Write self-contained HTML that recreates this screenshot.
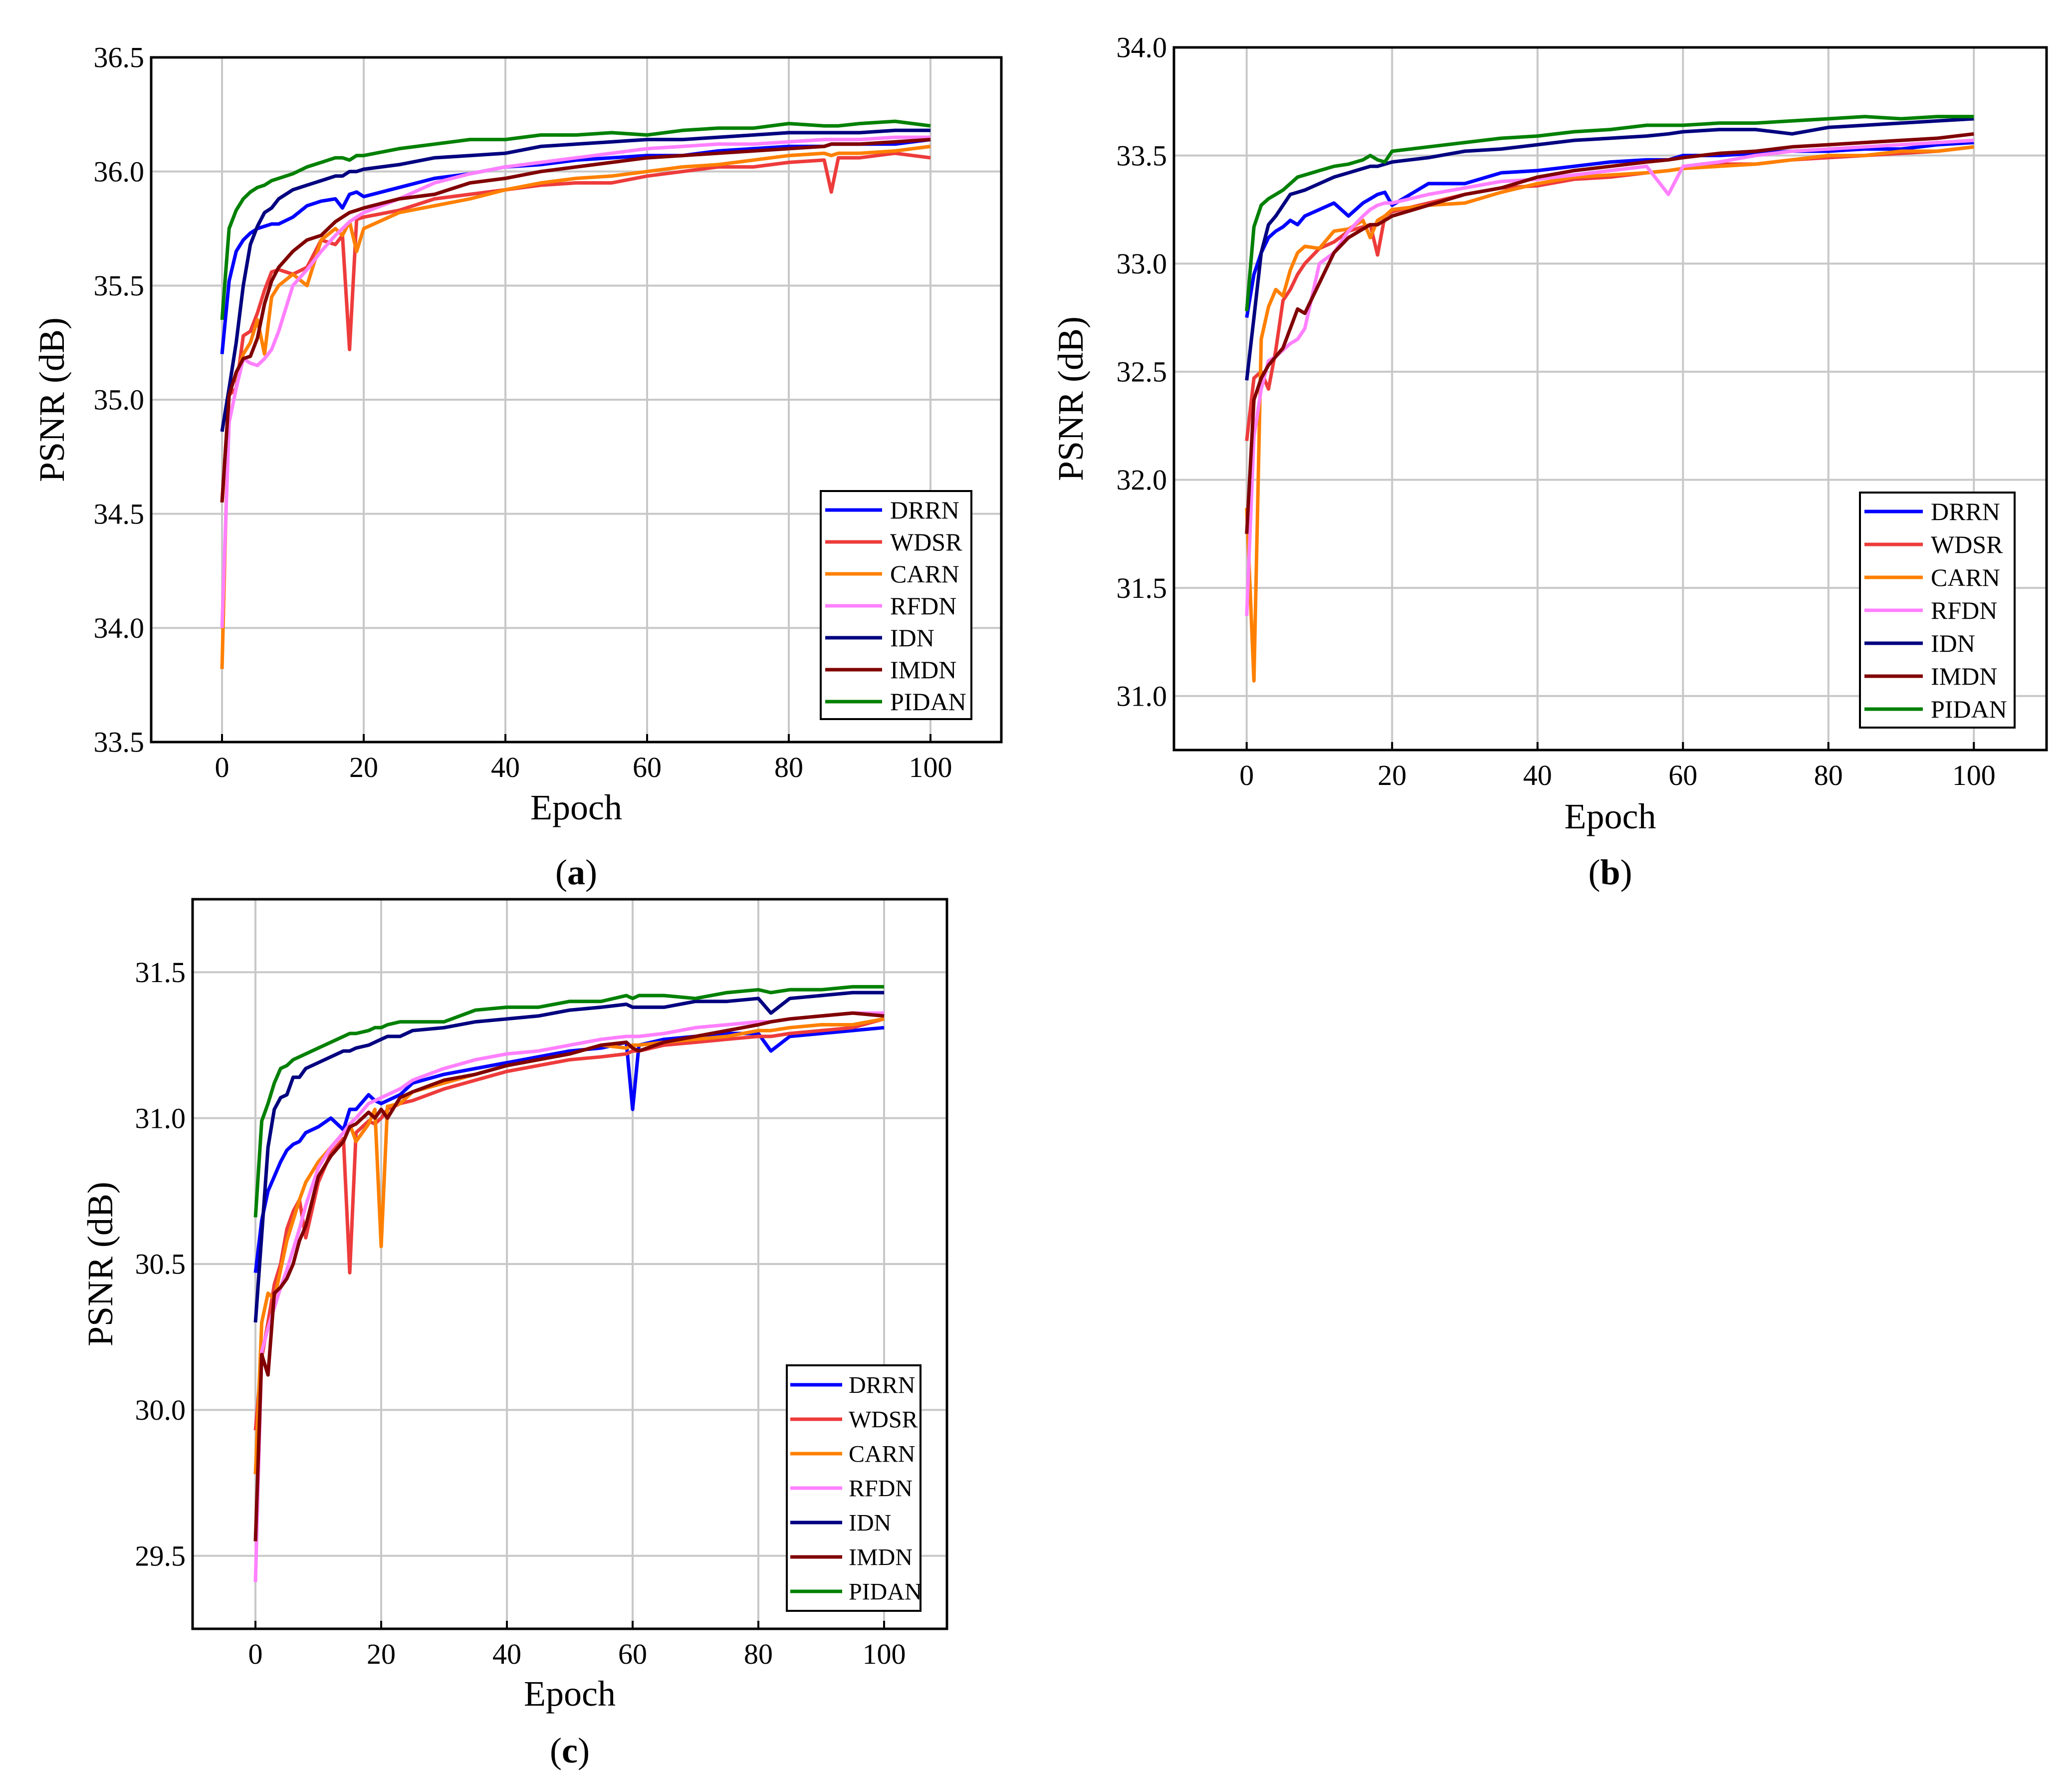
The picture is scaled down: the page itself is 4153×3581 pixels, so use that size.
<!DOCTYPE html>
<html><head><meta charset="utf-8"><style>
html,body{margin:0;padding:0;background:#fff}
svg{display:block;font-family:"Liberation Serif",serif}
svg text{font-family:"Liberation Serif",serif}
</style></head><body>
<svg id="fig" width="4153" height="3581" viewBox="0 0 4153 3581" xmlns="http://www.w3.org/2000/svg"></svg>
<script>
const names=["DRRN","WDSR","CARN","RFDN","IDN","IMDN","PIDAN"];
const colors=["#0000ff","#ee3b3b","#ff8000","#ff80ff","#000080","#800000","#008000"];
const xTicks=[0,20,40,60,80,100];

const epochsA=[0,1,2,3,4,5,6,7,8,10,12,14,16,17,18,19,20,25,30,35,40,45,50,55,60,65,70,75,80,85,86,87,90,95,100];
const drrnA=[35.20,35.52,35.65,35.70,35.73,35.75,35.76,35.77,35.77,35.80,35.85,35.87,35.88,35.84,35.90,35.91,35.89,35.93,35.97,35.99,36.02,36.03,36.05,36.06,36.07,36.07,36.09,36.10,36.11,36.11,36.12,36.12,36.12,36.12,36.14];
const wdsrA=[34.55,35.02,35.05,35.28,35.30,35.38,35.48,35.56,35.57,35.55,35.58,35.70,35.68,35.72,35.22,35.79,35.80,35.83,35.88,35.90,35.92,35.94,35.95,35.95,35.98,36.00,36.02,36.02,36.04,36.05,35.91,36.06,36.06,36.08,36.06];
const carnA=[33.82,35.05,35.10,35.20,35.25,35.35,35.20,35.45,35.50,35.55,35.50,35.70,35.75,35.72,35.78,35.65,35.75,35.82,35.85,35.88,35.92,35.95,35.97,35.98,36.00,36.02,36.03,36.05,36.07,36.08,36.07,36.08,36.08,36.09,36.11];
const rfdnA=[34.00,34.90,35.05,35.18,35.16,35.15,35.18,35.22,35.30,35.50,35.57,35.65,35.72,35.75,35.78,35.80,35.82,35.88,35.95,35.99,36.02,36.04,36.06,36.08,36.10,36.11,36.12,36.12,36.13,36.14,36.14,36.14,36.14,36.15,36.15];
const idnA=[34.86,35.05,35.25,35.50,35.68,35.76,35.82,35.84,35.88,35.92,35.94,35.96,35.98,35.98,36.00,36.00,36.01,36.03,36.06,36.07,36.08,36.11,36.12,36.13,36.14,36.14,36.15,36.16,36.17,36.17,36.17,36.17,36.17,36.18,36.18];
const imdnA=[34.55,35.02,35.12,35.18,35.19,35.27,35.42,35.52,35.58,35.65,35.70,35.72,35.78,35.80,35.82,35.83,35.84,35.88,35.90,35.95,35.97,36.00,36.02,36.04,36.06,36.07,36.08,36.09,36.10,36.11,36.12,36.12,36.12,36.13,36.14];
const pidanA=[35.35,35.75,35.83,35.88,35.91,35.93,35.94,35.96,35.97,35.99,36.02,36.04,36.06,36.06,36.05,36.07,36.07,36.10,36.12,36.14,36.14,36.16,36.16,36.17,36.16,36.18,36.19,36.19,36.21,36.20,36.20,36.20,36.21,36.22,36.20];
const yTicksA=["33.5","34.0","34.5","35.0","35.5","36.0","36.5"];

const epochsB=[0,1,2,3,4,5,6,7,8,10,12,14,16,17,18,19,20,25,30,35,40,45,50,55,58,60,65,70,75,80,85,90,95,100];
const drrnB=[32.75,32.95,33.05,33.12,33.15,33.17,33.20,33.18,33.22,33.25,33.28,33.22,33.28,33.30,33.32,33.33,33.27,33.37,33.37,33.42,33.43,33.45,33.47,33.48,33.48,33.50,33.50,33.51,33.52,33.52,33.53,33.53,33.55,33.56];
const wdsrB=[32.18,32.47,32.50,32.42,32.60,32.83,32.88,32.95,33.00,33.07,33.10,33.15,33.17,33.18,33.04,33.22,33.24,33.28,33.32,33.35,33.36,33.39,33.40,33.42,33.43,33.44,33.46,33.46,33.48,33.49,33.50,33.51,33.52,33.54];
const carnB=[31.87,31.07,32.65,32.80,32.88,32.85,32.97,33.05,33.08,33.07,33.15,33.16,33.20,33.12,33.20,33.22,33.25,33.27,33.28,33.33,33.37,33.40,33.41,33.42,33.43,33.44,33.45,33.46,33.48,33.50,33.50,33.52,33.52,33.54];
const rfdnB=[31.37,32.20,32.42,32.55,32.57,32.60,32.63,32.65,32.70,33.00,33.05,33.15,33.22,33.25,33.27,33.28,33.28,33.32,33.35,33.38,33.39,33.41,33.43,33.45,33.32,33.45,33.47,33.50,33.52,33.53,33.54,33.55,33.56,33.57];
const idnB=[32.46,32.75,33.05,33.18,33.22,33.27,33.32,33.33,33.34,33.37,33.40,33.42,33.44,33.45,33.45,33.46,33.47,33.49,33.52,33.53,33.55,33.57,33.58,33.59,33.60,33.61,33.62,33.62,33.60,33.63,33.64,33.65,33.66,33.67];
const imdnB=[31.75,32.37,32.47,32.53,32.57,32.61,32.70,32.79,32.77,32.91,33.05,33.12,33.16,33.18,33.18,33.20,33.22,33.27,33.32,33.35,33.40,33.43,33.45,33.47,33.48,33.49,33.51,33.52,33.54,33.55,33.56,33.57,33.58,33.60];
const pidanB=[32.78,33.17,33.27,33.30,33.32,33.34,33.37,33.40,33.41,33.43,33.45,33.46,33.48,33.50,33.48,33.47,33.52,33.54,33.56,33.58,33.59,33.61,33.62,33.64,33.64,33.64,33.65,33.65,33.66,33.67,33.68,33.67,33.68,33.68];
const yTicksB=["31.0","31.5","32.0","32.5","33.0","33.5","34.0"];

const epochsC=[0,1,2,3,4,5,6,7,8,10,12,14,15,16,18,19,20,21,23,25,30,35,40,45,50,55,59,60,61,65,70,75,80,82,85,90,95,100];
const drrnC=[30.47,30.65,30.75,30.80,30.85,30.89,30.91,30.92,30.95,30.97,31.00,30.96,31.03,31.03,31.08,31.06,31.05,31.06,31.08,31.12,31.15,31.17,31.19,31.21,31.23,31.24,31.26,31.03,31.25,31.27,31.28,31.29,31.29,31.23,31.28,31.29,31.30,31.31];
const wdsrC=[29.93,30.18,30.30,30.43,30.50,30.62,30.68,30.72,30.59,30.78,30.88,30.93,30.47,30.95,30.99,30.98,31.00,31.03,31.05,31.06,31.10,31.13,31.16,31.18,31.20,31.21,31.22,31.23,31.23,31.25,31.26,31.27,31.28,31.28,31.29,31.30,31.31,31.34];
const carnC=[29.78,30.30,30.40,30.38,30.48,30.58,30.65,30.72,30.78,30.85,30.90,30.95,30.98,30.92,30.98,31.03,30.56,31.04,31.05,31.09,31.12,31.15,31.18,31.20,31.22,31.25,31.24,31.25,31.25,31.26,31.27,31.28,31.30,31.30,31.31,31.32,31.32,31.34];
const rfdnC=[29.41,30.20,30.28,30.35,30.42,30.48,30.55,30.62,30.70,30.83,30.90,30.95,30.98,31.00,31.05,31.06,31.07,31.08,31.10,31.13,31.17,31.20,31.22,31.23,31.25,31.27,31.28,31.28,31.28,31.29,31.31,31.32,31.33,31.33,31.34,31.35,31.36,31.36];
const idnC=[30.30,30.60,30.90,31.03,31.07,31.08,31.14,31.14,31.17,31.19,31.21,31.23,31.23,31.24,31.25,31.26,31.27,31.28,31.28,31.30,31.31,31.33,31.34,31.35,31.37,31.38,31.39,31.38,31.38,31.38,31.40,31.40,31.41,31.36,31.41,31.42,31.43,31.43];
const imdnC=[29.55,30.19,30.12,30.40,30.42,30.45,30.50,30.58,30.63,30.80,30.87,30.92,30.97,30.98,31.02,31.00,31.03,31.00,31.07,31.09,31.13,31.15,31.18,31.20,31.22,31.25,31.26,31.24,31.23,31.26,31.28,31.30,31.32,31.33,31.34,31.35,31.36,31.35];
const pidanC=[30.66,30.99,31.05,31.12,31.17,31.18,31.20,31.21,31.22,31.24,31.26,31.28,31.29,31.29,31.30,31.31,31.31,31.32,31.33,31.33,31.33,31.37,31.38,31.38,31.40,31.40,31.42,31.41,31.42,31.42,31.41,31.43,31.44,31.43,31.44,31.44,31.45,31.45];
const yTicksC=["29.5","30.0","30.5","31.0","31.5"];

const NS="http://www.w3.org/2000/svg";
const FONT='"Liberation Serif", serif';
const svg=document.getElementById('fig');
function mk(tag,attrs,parent){const e=document.createElementNS(NS,tag);for(const k in attrs)e.setAttribute(k,attrs[k]);if(tag==='text')e.setAttribute('font-family',FONT);(parent||svg).appendChild(e);return e;}

function panel(cfg){
  const g=mk('g',{});
  
  
  const {L,R,T,B,x0,x1,y0,y1}=cfg;
  const sx=v=>L+(v-x0)/(x1-x0)*(R-L);
  const sy=v=>B-(v-y0)/(y1-y0)*(B-T);
  xTicks.forEach(t=>{
    const l=mk('line',{x1:sx(t),x2:sx(t),y1:T,y2:B,stroke:'#c8c8c8','stroke-width':4},g);
    
    
    const tk=mk('line',{x1:sx(t),x2:sx(t),y1:B,y2:B-16,stroke:'#000','stroke-width':4},g);
    
    
    const tx=mk('text',{x:sx(t),y:B+cfg.xlabOff,'text-anchor':'middle','font-size':cfg.fs},g);
    tx.textContent=t;
    
    
  });
  cfg.yTicks.forEach(s=>{
    const v=parseFloat(s);
    const l=mk('line',{x1:L,x2:R,y1:sy(v),y2:sy(v),stroke:'#c8c8c8','stroke-width':4},g);
    
    
    const tx=mk('text',{x:L-14,y:sy(v)+cfg.fs*0.34,'text-anchor':'end','font-size':cfg.fs},g);
    tx.textContent=s;
    
    
  });
  cfg.series.forEach((vals,i)=>{
    const d=vals.map((v,j)=>(j?'L':'M')+sx(cfg.epochs[j]).toFixed(1)+' '+sy(v).toFixed(1)).join(' ');
    const p=mk('path',{d:d,fill:'none',stroke:colors[i],'stroke-width':7,'stroke-linejoin':'round'},g);
    
    
  });
  const fr=mk('rect',{x:L,y:T,width:R-L,height:B-T,fill:'none',stroke:'#000','stroke-width':5},g);
  
  
  const xt=mk('text',{x:(L+R)/2,y:cfg.epochY,'text-anchor':'middle','font-size':cfg.tfs},g);
  xt.textContent='Epoch';
  
  
  const cy=(T+B)/2;
  const yt=mk('text',{x:cfg.ylabX,y:cy,'text-anchor':'middle','font-size':cfg.tfs,transform:`rotate(-90 ${cfg.ylabX} ${cy})`},g);
  yt.textContent='PSNR (dB)';
  
  
  const cap=mk('text',{x:(L+R)/2,y:cfg.capY,'text-anchor':'middle','font-size':cfg.tfs},g);
  cap.innerHTML='(<tspan font-weight="bold">'+cfg.id+'</tspan>)';
  
  
  const lg=cfg.leg;
  const lgG=mk('g',{},g);
  
  
  const lb=mk('rect',{x:lg.x,y:lg.y,width:lg.w,height:lg.h,fill:'#fff',stroke:'#000','stroke-width':4},lgG);
  
  
  names.forEach((n,i)=>{
    const yy=lg.r1+i*lg.step;
    const ln=mk('line',{x1:lg.l1,x2:lg.l2,y1:yy,y2:yy,stroke:colors[i],'stroke-width':7},lgG);
    
    
    const t=mk('text',{x:lg.tx,y:yy+lg.fs*0.34,'font-size':lg.fs},lgG);
    t.textContent=n;
    
    
  });
}

panel({id:'a',L:303,R:2007,T:115,B:1487,x0:-10,x1:110,y0:33.5,y1:36.5,yTicks:yTicksA,epochs:epochsA,
  series:[drrnA,wdsrA,carnA,rfdnA,idnA,imdnA,pidanA],fs:58,tfs:72,xlabOff:70,epochY:1642,ylabX:128,capY:1772,
  leg:{x:1645,y:984,w:302,h:457,r1:1022,step:64,l1:1654,l2:1768,tx:1784,fs:50}});
panel({id:'b',L:2353,R:4102,T:95,B:1503,x0:-10,x1:110,y0:30.75,y1:34.0,yTicks:yTicksB,epochs:epochsB,
  series:[drrnB,wdsrB,carnB,rfdnB,idnB,imdnB,pidanB],fs:58,tfs:72,xlabOff:70,epochY:1660,ylabX:2170,capY:1772,
  leg:{x:3728,y:987,w:310,h:471,r1:1025,step:66,l1:3737,l2:3854,tx:3870,fs:50}});
panel({id:'c',L:386,R:1898,T:1802,B:3264,x0:-10,x1:110,y0:29.25,y1:31.75,yTicks:yTicksC,epochs:epochsC,
  series:[drrnC,wdsrC,carnC,rfdnC,idnC,imdnC,pidanC],fs:58,tfs:72,xlabOff:70,epochY:3418,ylabX:225,capY:3532,
  leg:{x:1577,y:2736,w:268,h:492,r1:2775,step:69,l1:1584,l2:1688,tx:1701,fs:48}});
</script>
</body></html>
